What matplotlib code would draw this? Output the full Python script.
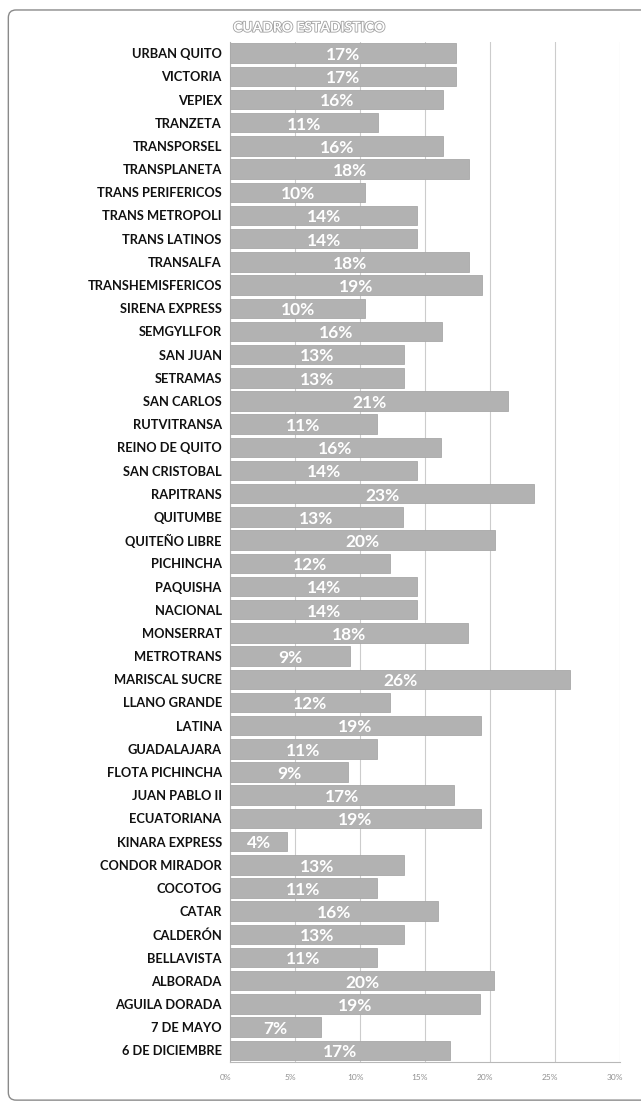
import matplotlib.pyplot as plt
import matplotlib.patheffects as pe
from matplotlib.patches import FancyBboxPatch
from matplotlib.transforms import ScaledTranslation

# Data (share per company, %)
companies = ['URBAN QUITO', 'VICTORIA', 'VEPIEX', 'TRANZETA', 'TRANSPORSEL',
             'TRANSPLANETA', 'TRANS PERIFERICOS', 'TRANS METROPOLI', 'TRANS LATINOS',
             'TRANSALFA', 'TRANSHEMISFERICOS', 'SIRENA EXPRESS', 'SEMGYLLFOR',
             'SAN JUAN', 'SETRAMAS', 'SAN CARLOS', 'RUTVITRANSA', 'REINO DE QUITO',
             'SAN CRISTOBAL', 'RAPITRANS', 'QUITUMBE', 'QUITEÑO LIBRE', 'PICHINCHA',
             'PAQUISHA', 'NACIONAL', 'MONSERRAT', 'METROTRANS', 'MARISCAL SUCRE',
             'LLANO GRANDE', 'LATINA', 'GUADALAJARA', 'FLOTA PICHINCHA', 'JUAN PABLO II',
             'ECUATORIANA', 'KINARA EXPRESS', 'CONDOR MIRADOR', 'COCOTOG', 'CATAR',
             'CALDERÓN', 'BELLAVISTA', 'ALBORADA', 'AGUILA DORADA', '7 DE MAYO',
             '6 DE DICIEMBRE']
values = [17.4, 17.4, 16.4, 11.4, 16.4,
          18.4, 10.4, 14.4, 14.4,
          18.4, 19.4, 10.4, 16.3,
          13.4, 13.4, 21.4, 11.3, 16.2,
          14.4, 23.4, 13.3, 20.4, 12.3,
          14.4, 14.4, 18.3, 9.2, 26.2,
          12.3, 19.3, 11.3, 9.1, 17.2,
          19.3, 4.4, 13.4, 11.3, 16.0,
          13.4, 11.3, 20.3, 19.2, 7.0,
          16.9]
xticks = [0, 5, 10, 15, 20, 25, 30]
xtick_labels = ['0%', '5%', '10%', '15%', '20%', '25%', '30%']

plt.rcParams['font.family'] = ['Lato', 'DejaVu Sans']

fig = plt.figure(figsize=(6.41, 11.09), dpi=100)
fig.patch.set_facecolor('white')

# rounded outer frame
frame = FancyBboxPatch((0.013, 0.008), 1.1, 0.983, boxstyle='round,pad=0,rounding_size=0.012',
                       transform=fig.transFigure, facecolor='none', edgecolor='#8a8a8a',
                       linewidth=1.0, mutation_aspect=641 / 1109)
fig.patches.append(frame)

ax = fig.add_axes([0.359, 0.0425, 0.608, 0.92])

y = list(range(len(companies)))
ax.barh(y, values, height=0.84, color='#b2b2b2', edgecolor='#a8a8a8', linewidth=0.6, zorder=3)

for yi, v in zip(y, values):
    ax.text(v / 2, yi + 0.08, f'{round(v)}%', ha='center', va='center', color='white',
            fontsize=12.5, fontweight='bold', zorder=4)

ax.set_ylim(len(companies) - 0.5, -0.5)
ax.set_xlim(0, 30)
ax.set_yticks(y)
ax.set_yticklabels(companies, fontsize=9.3, fontweight='bold', color='#111111')
ax.tick_params(axis='y', length=0, pad=6)
ax.set_xticks(xticks)
ax.set_xticklabels(xtick_labels, fontsize=6, color='#909090')
ax.tick_params(axis='x', length=0, pad=9)
for lbl in ax.get_xticklabels():
    lbl.set_transform(lbl.get_transform() + ScaledTranslation(-5 / 100, 0, fig.dpi_scale_trans))

ax.grid(axis='x', color='#cccccc', linewidth=0.8, zorder=0)
for side in ['top', 'right']:
    ax.spines[side].set_visible(False)
ax.spines['left'].set_color('#b0b0b0')
ax.spines['bottom'].set_color('#b8b8b8')

fig.text(0.482, 0.975, 'CUADRO ESTADISTICO', ha='center', va='center', fontsize=10,
         color='white', fontweight='bold',
         path_effects=[pe.withStroke(linewidth=1.2, foreground='#a0a0a0')])

fig.savefig('out.png', dpi=100)
